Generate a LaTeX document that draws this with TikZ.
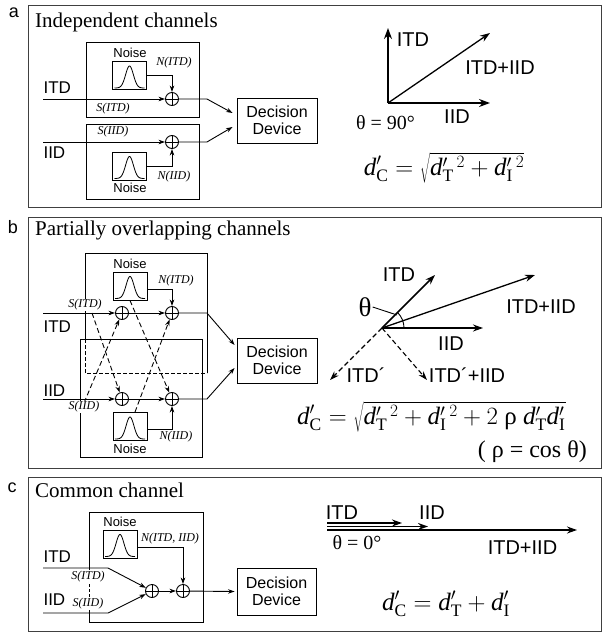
\documentclass[tikz,border=0pt]{standalone}
\usepackage{fontspec}
\setmainfont{Liberation Serif}
\setsansfont{Liberation Sans}
\usetikzlibrary{arrows.meta,calc}
\tikzset{
 ln/.style={line width=0.9pt, draw=black},
 conn/.style={ln, -{Stealth[length=6.5pt,width=4.5pt]}},
 dconn/.style={conn, dash pattern=on 5pt off 3pt},
 chbox/.style={ln},
 sumnode/.style={circle, ln, draw, minimum size=13pt, inner sep=0pt,
   path picture={\draw[line width=0.7pt] (path picture bounding box.north) -- (path picture bounding box.south) (path picture bounding box.west) -- (path picture bounding box.east);}},
 noisebox/.style={draw, ln, minimum width=34pt, minimum height=28pt, inner sep=0pt},
 dec/.style={draw, ln, minimum width=80pt, minimum height=45pt, align=center, font=\sffamily\fontsize{16}{17}\selectfont},
 noiselbl/.style={font=\sffamily\fontsize{13}{13}\selectfont},
 inlbl/.style={font=\sffamily\fontsize{17}{17}\selectfont, anchor=west},
 sig/.style={font=\itshape\fontsize{12}{12}\selectfont, fill=white, inner sep=0.5pt},
 vlbl/.style={font=\sffamily\fontsize{20}{20}\selectfont},
 ttl/.style={font=\fontsize{21}{21}\selectfont, anchor=base west, inner sep=0pt},
 plbl/.style={font=\sffamily\fontsize{18}{18}\selectfont},
 panel/.style={draw=black!75, line width=1pt},
 vec/.style={line width=2.2pt, -{Stealth[length=11pt,width=8pt]}},
 vecm/.style={line width=1.6pt, -{Stealth[length=10pt,width=7pt]}},
 vecs/.style={line width=1.3pt, -{Stealth[length=10pt,width=7pt]}},
 vecd/.style={line width=1.1pt, dash pattern=on 5pt off 3pt, -{Stealth[length=9pt,width=6pt]}},
 form/.style={font=\fontsize{20}{24}\selectfont},
 bigform/.style={font=\fontsize{25}{30}\selectfont, inner sep=0pt},
}
\newcommand{\bell}[1]{\draw[line width=0.8pt, x=1pt, y=1pt, shift={(#1.center)}] plot[domain=-15:15, samples=60, smooth] (\x, {22*exp(0-(\x/5.5)^2)-12.5});}
\newcommand{\dpr}[1]{\mathit{d}'_{\mathrm{#1}}}
\begin{document}
\begin{tikzpicture}[x=1pt,y=-1pt]
\useasboundingbox (0,0) rectangle (603,632);
% ================= Panel a =================
\draw[panel] (28,5) rectangle (601,207);
\node[plbl] at (14,13) {a};
\node[ttl] at (35,27) {Independent channels};
\draw[chbox] (86,42) rectangle (199,117);
\draw[chbox] (86,124) rectangle (199,199);
\node[noisebox] (na1) at (129.5,75.5) {};
\bell{na1}
\node[noisebox] (na2) at (129.5,166) {};
\bell{na2}
\node[sumnode] (sa1) at (172,99) {};
\node[sumnode] (sa2) at (172,142) {};
\node[dec] (da) at (277,120.5) {Decision\\Device};
\coordinate (ia1) at (43,99);
\coordinate (ia2) at (43,142);
\draw[conn] (ia1) -- (sa1);
\draw[conn] (ia2) -- (sa2);
\draw[conn] (na1.east) -| (sa1.north);
\draw[conn] (na2.east) -| (sa2.south);
\draw[conn] (sa1.east) -- ($(sa1.east)+(28,0)$) -- ($(da.west)+(-4,-7.5)$);
\draw[conn] (sa2.east) -- ($(sa2.east)+(28,0)$) -- ($(da.west)+(-4,6.5)$);
\node[noiselbl] at (130,53) {Noise};
\node[noiselbl] at (130,188) {Noise};
\node[sig] at (174,63) {N(ITD)};
\node[sig] at (113,109) {S(ITD)};
\node[sig] at (113,132) {S(IID)};
\node[sig] at (174,177) {N(IID)};
\node[inlbl] at (40,88) {ITD};
\node[inlbl] at (40,153) {IID};
% vectors a
\coordinate (oa) at (388,103);
\coordinate (ta) at (388,28);
\coordinate (tb) at (490,103);
\coordinate (tc) at (490,33);
\draw[vec] (oa) -- (ta);
\draw[vec] (oa) -- (tb);
\draw[vecs] (oa) -- (tc);
\node[vlbl] at (413,40) {ITD};
\node[vlbl] at (500,68) {ITD+IID};
\node[vlbl] at (457,117) {IID};
\node[form] at (385.5,123) {θ = 90°};
\node[bigform, anchor=base] at (444,175) {$\dpr{C} = \sqrt{\dpr{T}{}^{\,2} + \dpr{I}{}^{\,2}}$};
% ================= Panel b =================
\draw[panel] (28,217) rectangle (601,468);
\node[plbl] at (13,227) {b};
\node[ttl] at (35,235) {Partially overlapping channels};
\draw[chbox] (85,339) -- (85,253) -- (207,253) -- (207,373);
\draw[chbox, dash pattern=on 4pt off 2pt] (85,339) -- (85,373) -- (207,373);
\draw[chbox] (80,339) rectangle (202,457);
\node[noisebox] (nb1) at (130,286) {};
\bell{nb1}
\node[noisebox] (nb2) at (130,426.5) {};
\bell{nb2}
\node[sumnode] (sb1) at (122,313) {};
\node[sumnode] (sb2) at (172,313) {};
\node[sumnode] (sb3) at (122,399) {};
\node[sumnode] (sb4) at (172,399) {};
\node[dec] (db) at (277,360.5) {Decision\\Device};
\coordinate (ib1) at (43,313);
\coordinate (ib2) at (43,399);
\draw[conn] (ib1) -- (sb1);
\draw[conn] (sb1) -- (sb2);
\draw[conn] (ib2) -- (sb3);
\draw[conn] (sb3) -- (sb4);
\draw[conn] ([yshift=-3pt]nb1.east) -| (sb2.north);
\draw[conn] ([yshift=-2.5pt]nb2.east) -| (sb4.south);
\draw[conn] (sb2.east) -- ($(sb2.east)+(28,0)$) -- ($(db.west)+(-2,-15.5)$);
\draw[conn] (sb4.east) -- ($(sb4.east)+(28,0)$) -- ($(db.west)+(-2,7.5)$);
\coordinate (xb1) at (92,313);
\coordinate (xb2) at (81,410);
\draw[dconn] (xb1) -- (sb3);
\draw[dconn] (nb1.south) -- (sb4);
\draw[dconn] (xb2) -- (sb1);
\draw[dconn] ([xshift=5pt]nb2.north) -- (sb2);
\node[noiselbl] at (130,264) {Noise};
\node[noiselbl] at (130,449) {Noise};
\node[sig] at (176,281) {N(ITD)};
\node[sig] at (176,437) {N(IID)};
\node[sig] at (85,305) {S(ITD)};
\node[sig] at (84,407) {S(IID)};
\node[inlbl] at (40,327) {ITD};
\node[inlbl] at (40,391) {IID};
% vectors b
\coordinate (ob) at (382,328);
\coordinate (tb1) at (435,275);
\coordinate (tb2) at (483,328);
\coordinate (tb3) at (535,275);
\coordinate (tb4) at (330,380);
\coordinate (tb5) at (427,380);
\draw[vecm] (ob) -- (tb1);
\draw[vecm] (ob) -- (tb2);
\draw[vecs] (ob) -- (tb3);
\draw[vecd] (ob) -- (tb4);
\draw[vecd] (ob) -- (tb5);
\draw[ln] ($(ob)+(22,0)$) arc[start angle=0, end angle=45, radius=22pt];
\node[font=\fontsize{27}{27}\selectfont, inner sep=1pt] (th) at (365,307) {θ};
\draw[ln] (th.east) -- (397,315);
\node[vlbl] at (399,275) {ITD};
\node[vlbl] at (541,307) {ITD+IID};
\node[vlbl] at (451,344) {IID};
\node[vlbl] at (366,375) {ITD´};
\node[vlbl] at (467,375) {ITD´+IID};
\node[bigform, anchor=base west] at (297,424) {$\dpr{C} = \sqrt{\dpr{T}{}^{\,2} + \dpr{I}{}^{\,2} + 2\ \mbox{ρ}\ \dpr{T}\dpr{I}}$};
\node[bigform, font=\fontsize{24}{28}\selectfont, anchor=base east] at (587,457) {( ρ = cos θ)};
% ================= Panel c =================
\draw[panel] (28,477) rectangle (601,631);
\node[plbl] at (12,488) {c};
\node[ttl] at (35,497) {Common channel};
\draw[chbox] (89,570) -- (89,512) -- (203,512) -- (203,622) -- (89,622) -- (89,608);
\draw[chbox, dash pattern=on 3pt off 2pt] (89,584) -- (89,598);
\node[noisebox] (nc) at (120,544) {};
\bell{nc}
\node[sumnode] (sc1) at (152,591) {};
\node[sumnode] (sc2) at (183,591) {};
\node[dec, minimum width=79pt, minimum height=47pt] (dc) at (276.5,591.5) {Decision\\Device};
\coordinate (ic1) at (43,568);
\coordinate (ic2) at (43,613);
\draw[conn] (ic1) -- (108,568) -- (sc1);
\draw[conn] (ic2) -- (108,613) -- (sc1);
\draw[conn] (sc1) -- (sc2);
\draw[conn] (sc2) -- ($(dc.west)+(-2,0)$);
\draw[conn] ([yshift=-3pt]nc.east) -| (sc2.north);
\node[noiselbl] at (120,522) {Noise};
\node[sig] at (170,539) {N(ITD, IID)};
\node[sig] at (88,577) {S(ITD)};
\node[sig] at (88,604) {S(IID)};
\node[inlbl] at (40,557) {ITD};
\node[inlbl] at (40,600) {IID};
% vectors c
\coordinate (oc1) at (327,523);
\coordinate (oc2) at (327,526.5);
\coordinate (oc3) at (327,530);
\coordinate (tc1) at (402,523);
\coordinate (tc2) at (428,526.5);
\coordinate (tc3) at (577,530);
\draw[vecm] (oc1) -- (tc1);
\draw[vecm] (oc2) -- (tc2);
\draw[vecs] (oc3) -- (tc3);
\node[vlbl] at (342,513) {ITD};
\node[vlbl] at (432,513) {IID};
\node[form] at (357,543) {θ = 0°};
\node[vlbl] at (522.5,548) {ITD+IID};
\node[bigform, anchor=base] at (446,610) {$\dpr{C} =\dpr{T} + \dpr{I}$};
\end{tikzpicture}
\end{document}
